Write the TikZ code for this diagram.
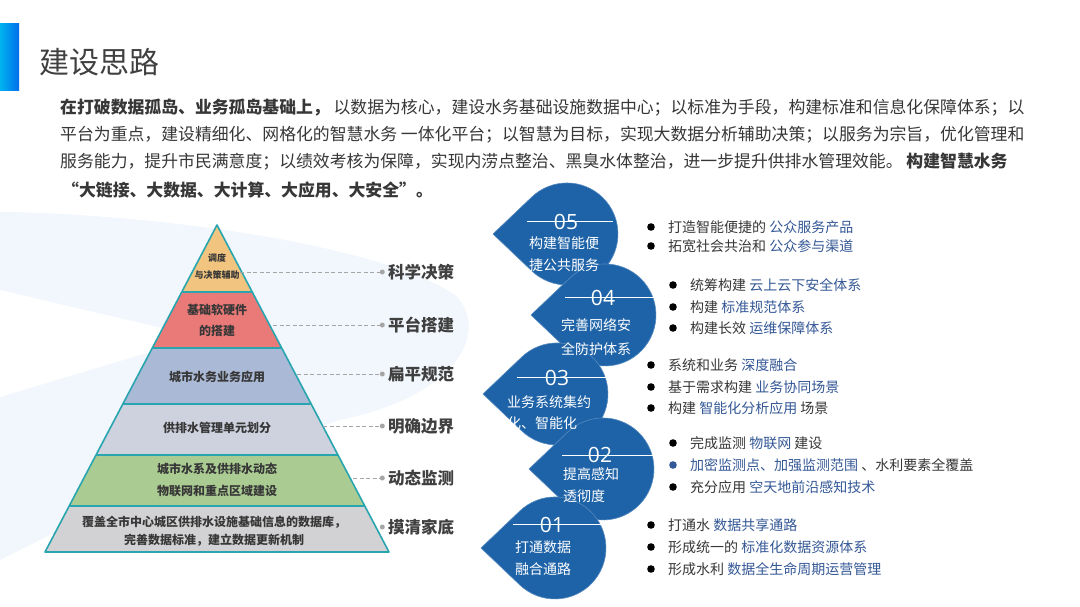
\documentclass[tikz,border=0pt]{standalone}
\usepackage{fontspec}
\setmainfont{Noto Sans CJK SC}
\newfontfamily\numfont{Open Sans}
\usetikzlibrary{positioning}

\definecolor{barcyan}{RGB}{0,180,240}
\definecolor{barblue}{RGB}{0,110,235}
\definecolor{titlegray}{RGB}{64,64,64}
\definecolor{txtgray}{RGB}{55,55,55}
\definecolor{hlblue}{RGB}{52,88,150}
\definecolor{dropblue}{RGB}{30,99,168}
\definecolor{bgblue}{RGB}{241,247,252}
\definecolor{edgeteal}{RGB}{40,165,175}
\definecolor{layA}{RGB}{241,196,128}
\definecolor{layB}{RGB}{233,122,120}
\definecolor{layC}{RGB}{170,186,214}
\definecolor{layD}{RGB}{206,209,222}
\definecolor{layE}{RGB}{170,204,146}
\definecolor{layF}{RGB}{210,210,212}
\definecolor{dotgray}{RGB}{165,165,165}

\tikzset{
  para/.style={anchor=west, inner sep=0pt, text=txtgray, font=\fontsize{16.85}{16.85}\selectfont},
  laytext/.style={inner sep=0pt, align=center, text=txtgray, font=\bfseries\fontsize{12}{18}\selectfont},
  lab/.style={anchor=west, inner sep=0pt, text=titlegray, font=\bfseries\fontsize{16.5}{16.5}\selectfont},
  dotmark/.style={circle, fill=dotgray, inner sep=0pt, minimum size=5pt},
  dashline/.style={dotgray, dashed, dash pattern=on 4pt off 2.5pt, line width=1pt},
  dropnum/.style={inner sep=0pt, text=white, font=\numfont\fontsize{21}{21}\selectfont},
  droptext/.style={inner sep=0pt, text=white, font=\fontsize{14}{22}\selectfont},
  btxt/.style={anchor=west, inner sep=0pt, text=txtgray, font=\fontsize{14}{14}\selectfont},
  bullet/.style={fill=black}
}

\begin{document}
\begin{tikzpicture}[x=1pt,y=-1pt]
\useasboundingbox (0,0) rectangle (1080,607);
\fill[white] (0,0) rectangle (1080,607);

% pale background behind the pyramid
\fill[bgblue] (0,212) .. controls (160,214) and (380,245) .. (455,295)
  .. controls (490,330) and (460,395) .. (340,420) -- (180,470) -- (0,560) -- cycle;
\fill[white] (0,290) -- (200,337) -- (0,397) -- cycle;

% title
\shade[left color=barcyan, right color=barblue] (0,24) rectangle (19,91);
\node[anchor=west, inner sep=0pt, text=titlegray, font=\fontsize{30}{30}\selectfont] (title) at (39,62) {建设思路};

% paragraph
\node[para] (p1) at (60,108) {\textbf{在打破数据孤岛、业务孤岛基础上，} 以数据为核心，建设水务基础设施数据中心；以标准为手段，构建标准和信息化保障体系；以};
\node[para] (p2) at (60,135) {平台为重点，建设精细化、网格化的智慧水务 一体化平台；以智慧为目标，实现大数据分析辅助决策；以服务为宗旨，优化管理和};
\node[para] (p3) at (60,162) {服务能力，提升市民满意度；以绩效考核为保障，实现内涝点整治、黑臭水体整治，进一步提升供排水管理效能。 \textbf{构建智慧水务}};
\node[para] (p4) at (62,190) {\textbf{“大链接、大数据、大计算、大应用、大安全”。}};

% pyramid
\coordinate (apex) at (217,225);
\coordinate (bl) at (45,552);
\coordinate (br) at (389,552);
\begin{scope}
\clip (apex) -- (br) -- (bl) -- cycle;
\fill[layA] (0,220) rectangle (400,292);
\fill[layB] (0,292) rectangle (400,348);
\fill[layC] (0,348) rectangle (400,404);
\fill[layD] (0,404) rectangle (400,455);
\fill[layE] (0,455) rectangle (400,506);
\fill[layF] (0,506) rectangle (400,560);
\foreach \yy in {292,348,404,455,506}
  \draw[edgeteal, line width=1.6pt] (0,\yy) -- (400,\yy);
\end{scope}
\draw[edgeteal, line width=1.6pt, line join=round] (apex) -- (br) -- (bl) -- cycle;

\node[laytext, font=\bfseries\fontsize{9}{17}\selectfont] (l1) at (217,266.5) {调度\\与决策辅助};
\node[laytext, font=\bfseries\fontsize{12}{21}\selectfont] (l2) at (217,320.5) {基础软硬件\\的搭建};
\node[laytext, font=\bfseries\fontsize{12}{21}\selectfont] (l3) at (217,377) {城市水务业务应用};
\node[laytext, font=\bfseries\fontsize{12}{21}\selectfont] (l4) at (217,428) {供排水管理单元划分};
\node[laytext, font=\bfseries\fontsize{12}{22}\selectfont] (l5) at (217,480) {城市水系及供排水动态\\物联网和重点区域建设};
\node[laytext] (l6) at (214,531) {覆盖全市中心城区供排水设施基础信息的数据库，\\完善数据标准，建立数据更新机制};

% labels on the right of the pyramid
\node[lab] (k1) at (388,272) {科学决策};
\node[lab] (k2) at (388,325) {平台搭建};
\node[lab] (k3) at (388,374) {扁平规范};
\node[lab] (k4) at (388,426) {明确边界};
\node[lab] (k5) at (388,478) {动态监测};
\node[lab] (k6) at (388,527) {摸清家底};
\node[dotmark, left=3pt of k1] (d1) {};
\node[dotmark, left=3pt of k2] (d2) {};
\node[dotmark, left=3pt of k3] (d3) {};
\node[dotmark, left=3pt of k4] (d4) {};
\node[dotmark, left=3pt of k5] (d5) {};
\node[dotmark, left=3pt of k6] (d6) {};
\coordinate (s1) at (240,272);
\coordinate (s2) at (273,325);
\coordinate (s3) at (297,374);
\coordinate (s4) at (323,426);
\coordinate (s5) at (353,478);
\draw[dashline] (s1) -- (d1);
\draw[dashline] (s2) -- (d2);
\draw[dashline] (s3) -- (d3);
\draw[dashline] (s4) -- (d4);
\draw[dashline] (s5) -- (d5);

% drops
\foreach \cx/\cy in {567/234, 605/315, 557/394, 603/469, 555/548}
  \fill[dropblue, draw=dropblue!75!white, line width=0.6pt]
    (\cx-74,\cy) -- (\cx-35.2,\cy+36.9) arc[start angle=133.6, end angle=-133.6, radius=51] -- cycle;

\draw[white, line width=0.7pt] (527,221) -- (613,221);
\draw[white, line width=0.7pt] (565,297) -- (655,297);
\draw[white, line width=0.7pt] (517,377) -- (607,377);
\draw[white, line width=0.7pt] (562,455) -- (653,455);
\draw[white, line width=0.7pt] (513,524) -- (602,524);
\node[dropnum] (n5) at (566,222) {05};
\node[dropnum] (n4) at (603,298) {04};
\node[dropnum] (n3) at (557,378) {03};
\node[dropnum] (n2) at (600,455) {02};
\node[dropnum] (n1) at (552,525) {01};
\node[droptext, align=center] (t5) at (564,254) {构建智能便\\捷公共服务};
\node[droptext, align=center, font=\fontsize{14}{24}\selectfont] (t4) at (596,337) {完善网络安\\全防护体系};
\node[droptext, align=left, anchor=west, font=\fontsize{14}{21}\selectfont] (t3) at (507,413) {业务系统集约\\化、智能化};
\node[droptext, align=left, anchor=west] (t2) at (563,485) {提高感知\\透彻度};
\node[droptext, align=left, anchor=west] (t1) at (515,558) {打通数据\\融合通路};

% bullet lists
\fill[bullet] (651,227) circle (3.8);
\node[btxt] (a1) at (668,227) {打造智能便捷的 \textcolor{hlblue}{公众服务产品}};
\fill[bullet] (651,246) circle (3.8);
\node[btxt] (a2) at (668,246) {拓宽社会共治和 \textcolor{hlblue}{公众参与渠道}};

\fill[bullet] (673,285) circle (3.8);
\node[btxt] (b1) at (690,285) {统筹构建 \textcolor{hlblue}{云上云下安全体系}};
\fill[bullet] (673,307) circle (3.8);
\node[btxt] (b2) at (690,307) {构建 \textcolor{hlblue}{标准规范体系}};
\fill[bullet] (673,328) circle (3.8);
\node[btxt] (b3) at (690,328) {构建长效 \textcolor{hlblue}{运维保障体系}};

\fill[bullet] (651,365) circle (3.8);
\node[btxt] (c1) at (668,365) {系统和业务 \textcolor{hlblue}{深度融合}};
\fill[bullet] (651,387) circle (3.8);
\node[btxt] (c2) at (668,387) {基于需求构建 \textcolor{hlblue}{业务协同场景}};
\fill[bullet] (651,408) circle (3.8);
\node[btxt] (c3) at (668,408) {构建 \textcolor{hlblue}{智能化分析应用} 场景};

\fill[bullet] (673,443) circle (3.8);
\node[btxt] (e1) at (690,443) {完成监测 \textcolor{hlblue}{物联网} 建设};
\fill[hlblue] (673,465) circle (3.8);
\node[btxt] (e2) at (690,465) {\textcolor{hlblue}{加密监测点、加强监测范围} 、水利要素全覆盖};
\fill[bullet] (673,487) circle (3.8);
\node[btxt] (e3) at (690,487) {充分应用 \textcolor{hlblue}{空天地前沿感知技术}};

\fill[bullet] (651,525) circle (3.8);
\node[btxt] (f1) at (668,525) {打通水 \textcolor{hlblue}{数据共享通路}};
\fill[bullet] (651,547) circle (3.8);
\node[btxt] (f2) at (668,547) {形成统一的 \textcolor{hlblue}{标准化数据资源体系}};
\fill[bullet] (651,569) circle (3.8);
\node[btxt] (f3) at (668,569) {形成水利 \textcolor{hlblue}{数据全生命周期运营管理}};
\end{tikzpicture}
\end{document}
